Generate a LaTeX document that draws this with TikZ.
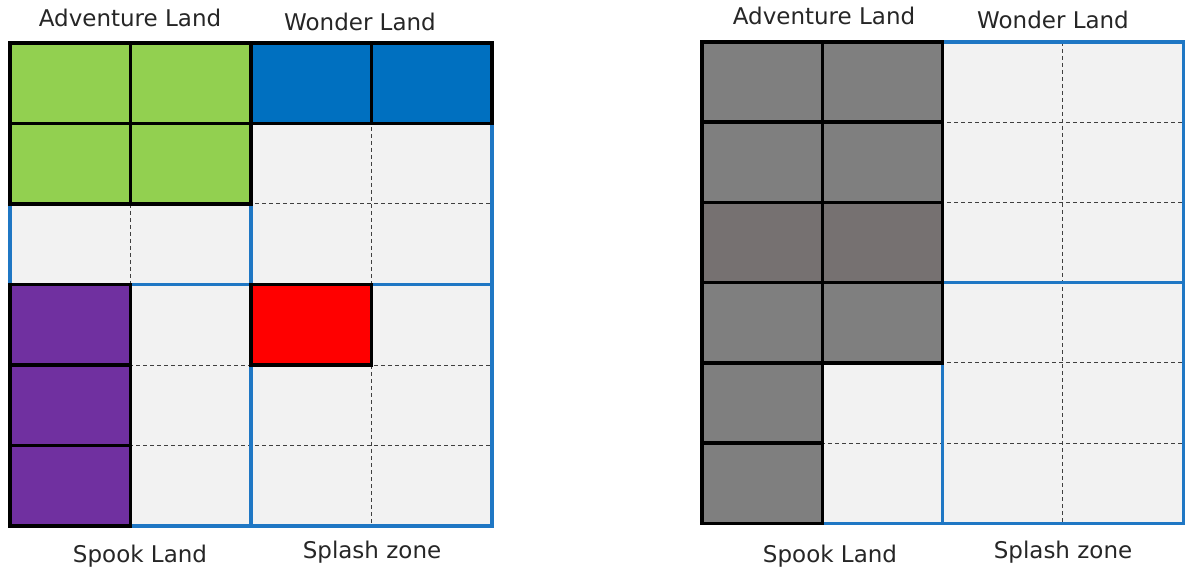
\documentclass[tikz,border=0pt]{standalone}
\usepackage{fontspec}
\setmainfont{DejaVu Sans}
\usetikzlibrary{positioning}
\tikzset{
	x=1pt, y=-1pt,
	land/.style = {font=\fontsize{23}{26}\selectfont, text=black!85, inner sep=0pt}, % the labels of the four parts
	gridline/.style = {draw=black!75, dash pattern=on 4pt off 3pt, line width=1pt},
	quad/.style = {draw=quadblue, line width=3.4pt},
	cell/.style = {draw=black, line width=3.4pt}
}

\begin{document}
\begin{tikzpicture}
\definecolor{quadblue}{RGB}{31,119,196}
\definecolor{cellbg}{RGB}{242,242,242}
\definecolor{cellgreen}{RGB}{146,208,80}
\definecolor{cellblue}{RGB}{0,112,192}
\definecolor{cellpurple}{RGB}{112,48,160}
\definecolor{cellred}{RGB}{255,0,0}
\definecolor{cellgrey}{RGB}{127,127,127}
\definecolor{cellgreydark}{RGB}{118,113,113}
\useasboundingbox (0,0) rectangle (1185,577);

% left park
\begin{scope}[shift={(10,43)}, x=120.5pt, y=-80.5pt]
\fill[cellbg] (0,0) rectangle (4,6);
\foreach \c in {1,3} \draw[gridline] (\c,0) -- (\c,6);
\foreach \r in {1,2,4,5} \draw[gridline] (0,\r) -- (4,\r);
\draw[quad] (0,0) rectangle (2,3) (2,0) rectangle (4,3) (0,3) rectangle (2,6) (2,3) rectangle (4,6);
\foreach \i/\j in {0/0,1/0,0/1,1/1} \draw[cell, fill=cellgreen] (\i,\j) rectangle +(1,1);
\foreach \i/\j in {2/0,3/0} \draw[cell, fill=cellblue] (\i,\j) rectangle +(1,1);
\foreach \j in {3,4,5} \draw[cell, fill=cellpurple] (0,\j) rectangle +(1,1);
\draw[cell, fill=cellred] (2,3) rectangle +(1,1);
\end{scope}

% right park
\begin{scope}[shift={(702,42)}, x=120.3pt, y=-80.2pt]
\fill[cellbg] (0,0) rectangle (4,6);
\foreach \c in {1,3} \draw[gridline] (\c,0) -- (\c,6);
\foreach \r in {1,2,4,5} \draw[gridline] (0,\r) -- (4,\r);
\draw[quad] (0,0) rectangle (2,3) (2,0) rectangle (4,3) (0,3) rectangle (2,6) (2,3) rectangle (4,6);
\foreach \i/\j in {0/0,1/0,0/1,1/1,0/3,1/3,0/4,0/5} \draw[cell, fill=cellgrey] (\i,\j) rectangle +(1,1);
\foreach \i in {0,1} \draw[cell, fill=cellgreydark] (\i,2) rectangle +(1,1);
\end{scope}

\node[land] (advL) at (130,18) {Adventure Land};
\node[land] (wonL) at (360,22) {Wonder Land};
\node[land] (spoL) at (140,556) {Spook Land};
\node[land] (splL) at (372,552) {Splash zone};
\node[land] (advR) at (824,16) {Adventure Land};
\node[land] (wonR) at (1053,20) {Wonder Land};
\node[land] (spoR) at (830,556) {Spook Land};
\node[land] (splR) at (1063,552) {Splash zone};
\end{tikzpicture}
\end{document}
